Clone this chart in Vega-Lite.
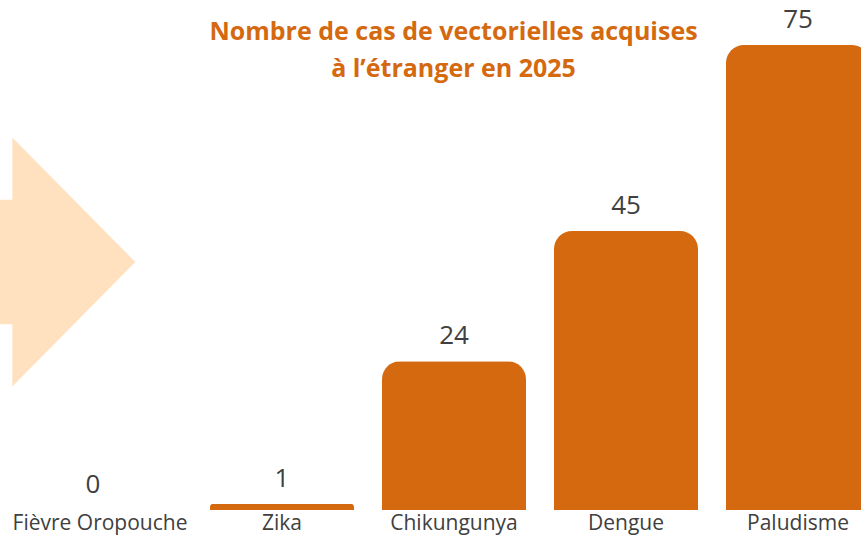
{
  "$schema": "https://vega.github.io/schema/vega-lite/v6.json",
  "width": 861,
  "height": 510,
  "autosize": {"type": "none"},
  "padding": {"left": 0, "top": 0, "right": 0, "bottom": 25},
  "background": "white",
  "config": {"view": {"stroke": null}, "font": "Open Sans"},
  "title": {
    "text": ["Nombre de cas de vectorielles acquises", "à l’étranger en 2025"],
    "color": "#D4690F",
    "font": "Open Sans",
    "fontSize": 25,
    "fontWeight": "bold",
    "anchor": "middle",
    "baseline": "alphabetic",
    "offset": -102,
    "lineHeight": 37,
    "dx": 23
  },
  "datasets": {
    "cases": [
      {"maladie": "Fièvre Oropouche", "cas": 0},
      {"maladie": "Zika", "cas": 1},
      {"maladie": "Chikungunya", "cas": 24},
      {"maladie": "Dengue", "cas": 45},
      {"maladie": "Paludisme", "cas": 75}
    ],
    "fleche": [
      {"ax": 6, "ay": 40}
    ]
  },
  "layer": [
    {
      "data": {"name": "fleche"},
      "mark": {
        "type": "point",
        "filled": true,
        "opacity": 1,
        "color": "#FFE1BF",
        "strokeWidth": 0,
        "size": 62001,
        "shape": "M-0.8,-0.5L-0.494,-0.5L-0.494,-1L0.494,0L-0.494,1L-0.494,0.5L-0.8,0.5Z"
      },
      "encoding": {
        "x": {"field": "ax", "type": "quantitative", "scale": {"domain": [0, 70], "nice": false}, "axis": null},
        "y": {"field": "ay", "type": "quantitative", "scale": {"domain": [0, 82.26], "nice": false}, "axis": null}
      }
    },
    {
      "data": {"name": "cases"},
      "encoding": {
        "x": {
          "field": "maladie",
          "type": "nominal",
          "sort": null,
          "scale": {"range": [24, 884], "paddingInner": 0.1628, "paddingOuter": 0.0814},
          "axis": {
            "title": null,
            "domain": false,
            "ticks": false,
            "labelFont": "Open Sans",
            "labelFontSize": 21,
            "labelColor": "#404040",
            "labelPadding": 19,
            "labelBaseline": "alphabetic",
            "labelAngle": 0,
            "labelOffset": {"condition": {"test": "datum.value === 'Fièvre Oropouche'", "value": -10}, "value": 0}
          }
        },
        "y": {"field": "cas", "type": "quantitative", "scale": {"domain": [0, 82.26], "nice": false}, "axis": null}
      },
      "layer": [
        {
          "mark": {"type": "bar", "color": "#D4690F", "cornerRadiusTopLeft": 18, "cornerRadiusTopRight": 18}
        },
        {
          "mark": {
            "type": "text",
            "font": "Open Sans",
            "fontSize": 26,
            "color": "#404040",
            "baseline": "alphabetic",
            "dy": -17,
            "dx": {"expr": "datum.maladie === 'Fièvre Oropouche' ? -17 : 0"}
          },
          "encoding": {"text": {"field": "cas", "type": "quantitative"}}
        }
      ]
    }
  ],
  "resolve": {"scale": {"x": "independent"}}
}
